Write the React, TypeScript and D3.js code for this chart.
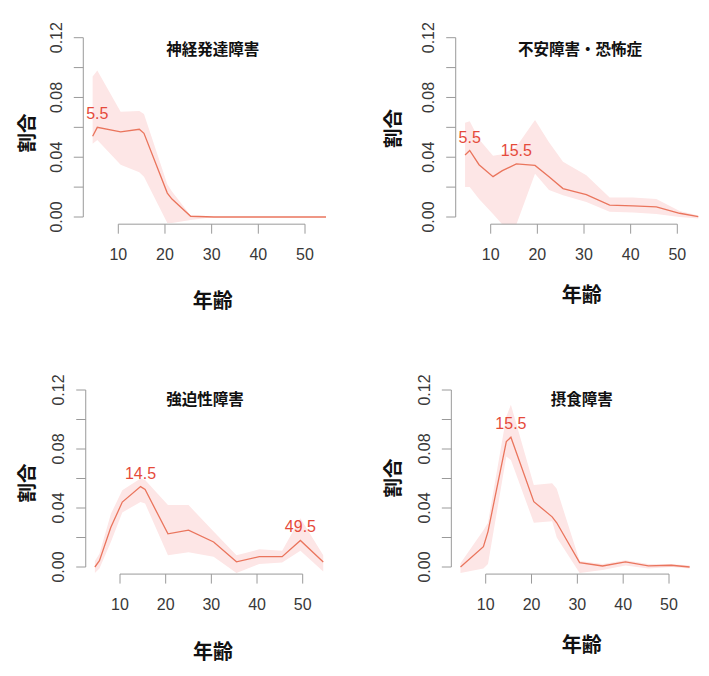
import React from "react";
import * as d3 from "d3";

// 共通の目盛り
const xTicks = [10, 20, 30, 40, 50];
const yTicks = [0, 0.02, 0.04, 0.06, 0.08, 0.1, 0.12];
const yTickLabels = ["0.00", "", "0.04", "", "0.08", "", "0.12"];
const xLabel = "年齢";
const yLabel = "割合";

// 神経発達障害
const ages1 = [4.5, 5.5, 10.5, 14.5, 15.5, 20.5, 21.5, 25.5, 30.5, 54.5];
const rate1 = [0.054, 0.06, 0.057, 0.0587, 0.056, 0.016, 0.012, 0.0005, 0, 0];
const upper1 = [0.094, 0.098, 0.0705, 0.071, 0.069, 0.022, 0.017, 0.001, 0, 0];
const lower1 = [0.049, 0.0515, 0.035, 0.03, 0.027, -0.004, -0.004, -0.002, 0, 0];
const peaks1 = [5.5];

// 不安障害・恐怖症
const ages2 = [4.5, 5.5, 7.5, 10.5, 12.5, 15.5, 19.5, 22.5, 25.5, 30.5, 35.5, 40.5, 45.5, 50.5, 54.5];
const rate2 = [0.0415, 0.0445, 0.035, 0.027, 0.031, 0.0355, 0.0345, 0.027, 0.019, 0.015, 0.008, 0.0075, 0.0068, 0.0025, 0.0003];
const upper2 = [0.063, 0.064, 0.052, 0.041, 0.042, 0.047, 0.065, 0.05, 0.037, 0.028, 0.013, 0.013, 0.012, 0.004, 0.001];
const lower2 = [0.02, 0.02, 0.012, 0.002, -0.005, -0.005, 0.029, 0.018, 0.0145, 0.01, 0.0035, 0.003, 0.002, 0, -0.001];
const peaks2 = [5.5, 15.5];

// 強迫性障害
const ages3 = [4.5, 5.5, 8, 10.5, 14.5, 15.5, 20.5, 25, 30.5, 35.5, 40.5, 45.5, 49.5, 54.5];
const rate3 = [0, 0.0043, 0.027, 0.044, 0.0545, 0.0525, 0.0225, 0.025, 0.017, 0.0035, 0.007, 0.007, 0.018, 0.0034];
const upper3 = [0.004, 0.009, 0.036, 0.052, 0.06, 0.059, 0.042, 0.042, 0.024, 0.008, 0.012, 0.011, 0.033, 0.008];
const lower3 = [-0.004, -0.001, 0.017, 0.037, 0.044, 0.043, 0.008, 0.01, 0.007, -0.004, 0.002, 0.003, 0.011, -0.003];
const peaks3 = [14.5, 49.5];

// 摂食障害
const ages4 = [4.5, 9.5, 10.5, 14.5, 15.5, 20.5, 24.5, 25.5, 30.5, 35.5, 40.5, 45.5, 50.5, 54.5];
const rate4 = [0, 0.0138, 0.024, 0.085, 0.088, 0.0443, 0.034, 0.03, 0.003, 0.0007, 0.0035, 0.0007, 0.0012, 0];
const upper4 = [0.0025, 0.025, 0.03, 0.102, 0.11, 0.0556, 0.0567, 0.053, 0.004, 0.002, 0.0045, 0.002, 0.002, 0.001];
const lower4 = [-0.004, -0.001, 0.002, 0.075, 0.0725, 0.03, 0.031, 0.02, -0.004, -0.002, 0.001, -0.001, 0, -0.001];
const peaks4 = [15.5];

const titles = ["神経発達障害", "不安障害・恐怖症", "強迫性障害", "摂食障害"];

// パネルの配置（x=10, x=50, y=0, y=0.12 の画面位置）
const panels = [
  { title: titles[0], ages: ages1, rate: rate1, upper: upper1, lower: lower1, peaks: peaks1,
    x10: 118.3, x50: 305, y0: 217, y12: 37.7, tx: 212.7, ty: 48, lx: 212.7, ly: 299, ylx: 25, yly: 133 },
  { title: titles[1], ages: ages2, rate: rate2, upper: upper2, lower: lower2, peaks: peaks2,
    x10: 490.7, x50: 677.3, y0: 217, y12: 37.7, tx: 580, ty: 48, lx: 581.7, ly: 293, ylx: 391.7, yly: 128.5 },
  { title: titles[2], ages: ages3, rate: rate3, upper: upper3, lower: lower3, peaks: peaks3,
    x10: 120, x50: 302.7, y0: 567, y12: 390, tx: 205, ty: 398.3, lx: 213, ly: 650, ylx: 25, yly: 483 },
  { title: titles[3], ages: ages4, rate: rate4, upper: upper4, lower: lower4, peaks: peaks4,
    x10: 485.7, x50: 669, y0: 567, y12: 390, tx: 581.7, ty: 398.3, lx: 581.7, ly: 643, ylx: 391.7, yly: 478 },
];

const numFont = "'Liberation Sans', Arial, sans-serif";
const cjkFont = "'Noto Sans CJK JP', 'Noto Sans CJK SC', sans-serif";
const axisColor = "#9a9a9a";
const lineColor = "#ea755d";
const bandColor = "#fde6e6";
const peakColor = "#e54a3b";

const Panel: React.FC<{ p: (typeof panels)[number]; idx: number }> = ({ p, idx }) => {
  const x = d3.scaleLinear().domain([10, 50]).range([p.x10, p.x50]);
  const y = d3.scaleLinear().domain([0, 0.12]).range([p.y0, p.y12]);
  const left = x(2.5);
  const right = x(56.5);
  const top = y(0.1248);
  const bottom = y(-0.0048);

  const idxs = p.ages.map((_, i) => i);
  const area = d3
    .area<number>()
    .x((i) => x(p.ages[i]))
    .y0((i) => y(p.lower[i]))
    .y1((i) => y(p.upper[i]));
  const line = d3
    .line<number>()
    .x((i) => x(p.ages[i]))
    .y((i) => y(p.rate[i]));

  const clipId = "clip" + idx;
  return (
    <g>
      <defs>
        <clipPath id={clipId}>
          <rect x={left} y={top} width={right - left} height={bottom - top} />
        </clipPath>
      </defs>
      <g clipPath={`url(#${clipId})`}>
        <path d={area(idxs) || ""} fill={bandColor} stroke="none" />
        <path d={line(idxs) || ""} fill="none" stroke={lineColor} strokeWidth={1.3} />
      </g>
      {p.peaks.map((a) => {
        const i = p.ages.indexOf(a);
        return (
          <text key={a} x={x(a)} y={y(p.rate[i]) - 13.5} textAnchor="middle" dominantBaseline="central"
            fontFamily={numFont} fontSize={16} fill={peakColor}>
            {String(a)}
          </text>
        );
      })}
      {/* x axis */}
      <line x1={x(10)} x2={x(50)} y1={bottom} y2={bottom} stroke={axisColor} />
      {xTicks.map((t) => (
        <g key={t}>
          <line x1={x(t)} x2={x(t)} y1={bottom} y2={bottom + 9.5} stroke={axisColor} />
          <text x={x(t)} y={bottom + 30} textAnchor="middle" dominantBaseline="central"
            fontFamily={numFont} fontSize={16} fill="#383838">
            {t}
          </text>
        </g>
      ))}
      {/* y axis */}
      <line x1={left} x2={left} y1={y(0)} y2={y(0.12)} stroke={axisColor} />
      {yTicks.map((t, i) => (
        <g key={t}>
          <line x1={left} x2={left - 9.5} y1={y(t)} y2={y(t)} stroke={axisColor} />
          {yTickLabels[i] && (
            <text transform={`translate(${left - 27},${y(t)}) rotate(-90)`} textAnchor="middle"
              dominantBaseline="central" fontFamily={numFont} fontSize={16} fill="#383838">
              {yTickLabels[i]}
            </text>
          )}
        </g>
      ))}
      <text x={p.tx} y={p.ty} textAnchor="middle" dominantBaseline="central" fontFamily={cjkFont}
        fontWeight="bold" fontSize={15.5} fill="#111">
        {p.title}
      </text>
      <text x={p.lx} y={p.ly} textAnchor="middle" dominantBaseline="central" fontFamily={cjkFont}
        fontWeight="bold" fontSize={20} fill="#111">
        {xLabel}
      </text>
      <text transform={`translate(${p.ylx},${p.yly}) rotate(-90)`} textAnchor="middle"
        dominantBaseline="central" fontFamily={cjkFont} fontWeight="bold" fontSize={19.5} fill="#111">
        {yLabel}
      </text>
    </g>
  );
};

const App: React.FC = () => {
  return (
    <svg width={709} height={676} style={{ position: "absolute", left: 0, top: 0, background: "#fff" }}>
      {panels.map((p, i) => (
        <Panel key={i} p={p} idx={i} />
      ))}
    </svg>
  );
};

export default App;
